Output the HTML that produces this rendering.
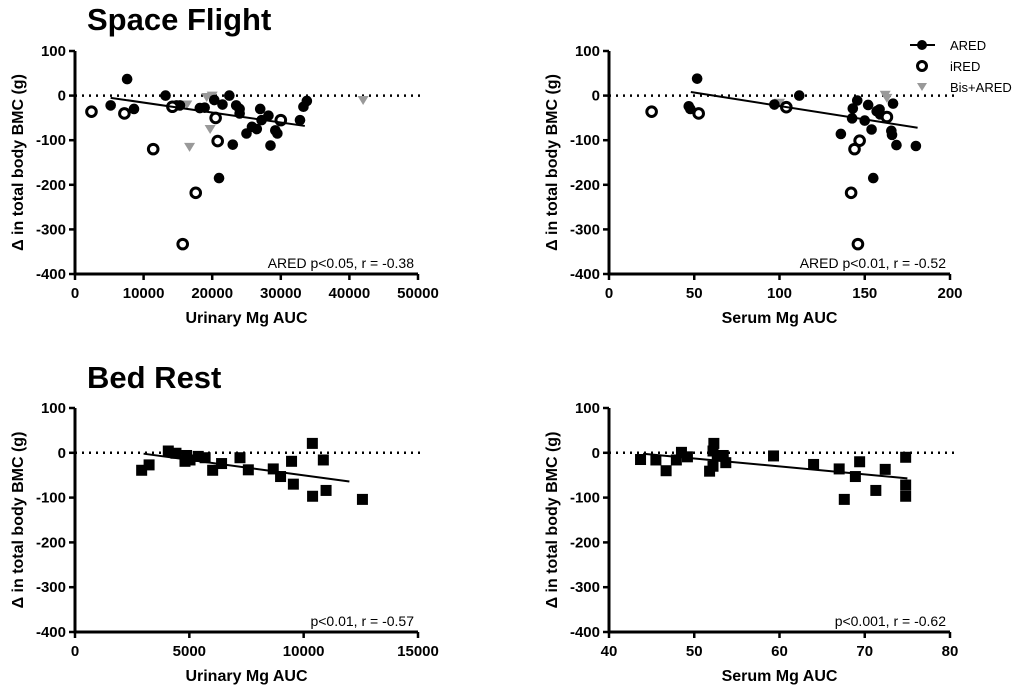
<!DOCTYPE html>
<html><head><meta charset="utf-8"><style>
body{margin:0;background:#fff}
svg{font-family:"Liberation Sans",Arial,sans-serif}
.tk{font-size:15px;font-weight:bold}
.xt{font-size:16px;font-weight:bold}
.ann{font-size:14px}
</style></head><body>
<svg id="s" width="1024" height="687">
<text x="87" y="30" font-size="31" font-weight="bold">Space Flight</text>
<text x="87" y="388" font-size="31" font-weight="bold">Bed Rest</text>
<g>
<line x1="910" y1="45" x2="935" y2="45" stroke="#000" stroke-width="2"/><circle cx="922" cy="45" r="5"/>
<text x="950" y="50" font-size="13">ARED</text>
<circle cx="922" cy="66" r="4.5" fill="none" stroke="#000" stroke-width="3"/>
<text x="950" y="71" font-size="13">iRED</text>
<path d="M917 83 L927 83 L922 91Z" fill="#999"/>
<text x="950" y="92" font-size="13">Bis+ARED</text>
</g>
</svg>
<script>
// Space flight, urinary
const sfUrAredX=[5200,7600,8600,13200,14800,15300,18200,18900,20300,21000,21500,22500,23000,23500,24000,24000,25000,25800,26500,27000,27200,28200,28500,29200,29500,32800,33300,33800];
const sfUrAredY=[-22,37,-30,0,-22,-22,-28,-27,-10,-185,-20,0,-110,-22,-30,-40,-85,-70,-75,-30,-55,-45,-112,-78,-85,-55,-25,-12];
const sfUrIredX=[2400,7200,11400,14200,17600,15700,20500,20800,30000];
const sfUrIredY=[-36,-40,-120,-25,-218,-333,-50,-102,-55];
const sfUrBisX=[16300,16700,19200,19700,20000,42000];
const sfUrBisY=[-20,-115,-3,-75,0,-10];
const sfUrFitX=[5200,33500];const sfUrFitY=[-5,-68];
// Space flight, serum
const sfSeAredX=[51.7,46.8,47.7,97,111.6,145.6,143,152,142.6,150,154,136,168.6,180,155,166.6,158.7,159,165.6,166,157];
const sfSeAredY=[38,-24,-30,-20,0,-11,-29,-21,-51,-56,-76,-86,-111,-113,-185,-18,-31,-42,-79,-88,-35];
const sfSeIredX=[25,52.6,104,163,147,144,142,146];
const sfSeIredY=[-36,-40,-26,-48,-101,-120,-218,-333];
const sfSeBisX=[162,163,100];
const sfSeBisY=[2,-5,-16];
const sfSeFitX=[48,181];const sfSeFitY=[8,-72];
// Bed rest
const brUrX=[2915,3240,4080,4415,4810,4880,5030,5390,5690,6020,6410,7215,7580,8670,8990,9470,9550,10380,10390,10860,10980,12570];
const brUrY=[-39,-27,4,-1,-19,-6,-16,-8,-11,-39,-24,-11,-38,-36,-53,-19,-70,21,-97,-16,-84,-104];
const brUrFitX=[3000,12000];const brUrFitY=[-2,-64];
const brSeX=[43.7,45.5,46.7,47.9,48.5,49.2,51.8,52.2,52.3,52.2,52.7,53.4,53.7,59.3,64,67,67.6,68.9,69.4,71.3,72.4,74.8,74.8,74.8];
const brSeY=[-15,-16,-40,-16,1,-9,-41,-30,21,4,-7,-6,-22,-7,-26,-36,-104,-53,-20,-84,-37,-10,-72,-97];
const brSeFitX=[44,75];const brSeFitY=[-2,-57];
const yTicks=[100,0,-100,-200,-300,-400];
const xTicksA=[0,10000,20000,30000,40000,50000];
const xTicksB=[0,50,100,150,200];
const xTicksC=[0,5000,10000,15000];
const xTicksD=[40,50,60,70,80];

const NS="http://www.w3.org/2000/svg";const S=document.getElementById('s');
function mk(t,a,p){const e=document.createElementNS(NS,t);for(const k in a)e.setAttribute(k,a[k]);(p||S).appendChild(e);return e;}
function panel(o){
 const g=mk('g',{});
 
 
 const X=v=>o.x0+(v-o.xmin)/(o.xmax-o.xmin)*(o.x1-o.x0);
 const Y=v=>o.y0+(100-v)/500*(o.y1-o.y0);
 const ax=mk('path',{d:`M${o.x0} ${o.y0}V${o.y1}H${o.x1}`,stroke:'#000','stroke-width':3,fill:'none'},g);
 
 
 yTicks.forEach(v=>{mk('line',{x1:o.x0-6,x2:o.x0,y1:Y(v),y2:Y(v),stroke:'#000','stroke-width':2.5},g);
  const t=mk('text',{x:o.x0-9,y:Y(v)+5,'text-anchor':'end',class:'tk'},g);t.textContent=v;
  
  });
 o.xt.forEach(v=>{mk('line',{x1:X(v),x2:X(v),y1:o.y1,y2:o.y1+6,stroke:'#000','stroke-width':2.5},g);
  const t=mk('text',{x:X(v),y:o.y1+24,'text-anchor':'middle',class:'tk'},g);t.textContent=v;
  
  });
 const xl=mk('text',{x:(o.x0+o.x1)/2,y:o.y1+49,'text-anchor':'middle',class:'xt'},g);xl.textContent=o.xlab;
 
 
 const yl=mk('text',{x:0,y:0,'text-anchor':'middle',class:'xt',transform:`translate(${o.x0-52},${(o.y0+o.y1)/2}) rotate(-90)`},g);yl.textContent='Δ in total body BMC (g)';
 
 
 const dl=mk('line',{x1:o.x0,x2:o.x1+4,y1:Y(0),y2:Y(0),stroke:'#000','stroke-width':2.5,'stroke-dasharray':'2 5'},g);
 
 
 (o.series||[]).forEach(s=>{s.x.forEach((v,i)=>{const cx=X(v),cy=Y(s.y[i]);let e;
  if(s.t==='f')e=mk('circle',{cx,cy,r:5.3},g);
  else if(s.t==='o')e=mk('circle',{cx,cy,r:4.8,fill:'#fff',stroke:'#000','stroke-width':3},g);
  else if(s.t==='b')e=mk('path',{d:`M${cx-5.5} ${cy-4}h11l-5.5 9z`,fill:'#999'},g);
  else e=mk('rect',{x:cx-5.5,y:cy-5.5,width:11,height:11},g);
  
  });});
 const f=mk('line',{x1:X(o.fx[0]),x2:X(o.fx[1]),y1:Y(o.fy[0]),y2:Y(o.fy[1]),stroke:'#000','stroke-width':2},g);
 
 
 const an=mk('text',{x:o.x1-4,y:o.y1-6,'text-anchor':'end',class:'ann'},g);an.textContent=o.ann;
 
 
}
panel({name:'space-flight-urinary-panel',x0:75,x1:418,y0:51,y1:274,xmin:0,xmax:50000,xt:xTicksA,xlab:'Urinary Mg AUC',ann:'ARED p<0.05, r = -0.38',fx:sfUrFitX,fy:sfUrFitY,
 series:[{t:'b',n:'bis-ared',x:sfUrBisX,y:sfUrBisY},{t:'f',n:'ared',x:sfUrAredX,y:sfUrAredY},{t:'o',n:'ired',x:sfUrIredX,y:sfUrIredY}]});
panel({name:'space-flight-serum-panel',x0:609,x1:950,y0:51,y1:274,xmin:0,xmax:200,xt:xTicksB,xlab:'Serum Mg AUC',ann:'ARED p<0.01, r = -0.52',fx:sfSeFitX,fy:sfSeFitY,
 series:[{t:'b',n:'bis-ared',x:sfSeBisX,y:sfSeBisY},{t:'f',n:'ared',x:sfSeAredX,y:sfSeAredY},{t:'o',n:'ired',x:sfSeIredX,y:sfSeIredY}]});
panel({name:'bed-rest-urinary-panel',x0:75,x1:418,y0:408,y1:632,xmin:0,xmax:15000,xt:xTicksC,xlab:'Urinary Mg AUC',ann:'p<0.01, r = -0.57',fx:brUrFitX,fy:brUrFitY,
 series:[{t:'s',n:'bed-rest',x:brUrX,y:brUrY}]});
panel({name:'bed-rest-serum-panel',x0:609,x1:950,y0:408,y1:632,xmin:40,xmax:80,xt:xTicksD,xlab:'Serum Mg AUC',ann:'p<0.001, r = -0.62',fx:brSeFitX,fy:brSeFitY,
 series:[{t:'s',n:'bed-rest',x:brSeX,y:brSeY}]});
</script>
</body></html>
